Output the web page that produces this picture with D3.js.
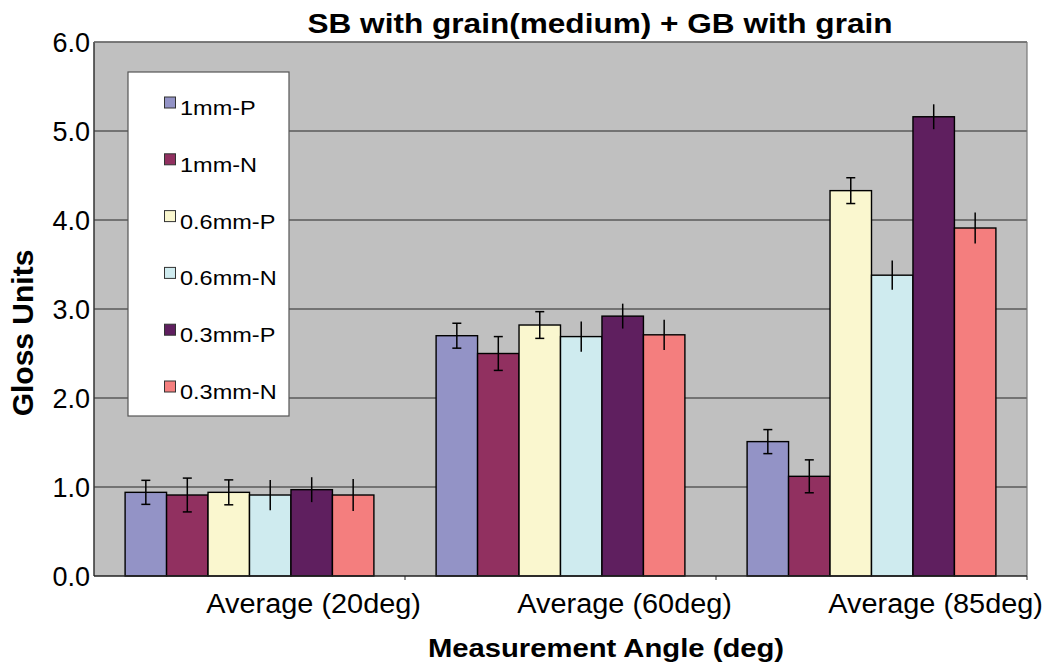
<!DOCTYPE html>
<html>
<head>
<meta charset="utf-8">
<script src="https://cdn.jsdelivr.net/npm/d3@7"></script>
<style>
  body { margin: 0; background: #fff; }
  text { font-family: "Liberation Sans", Arial, sans-serif; fill: #000; }
</style>
</head>
<body>
<svg id="chart" width="1047" height="665"></svg>
<script>
// chart values
let categories = ["Average (20deg)", "Average (60deg)", "Average (85deg)"];
let series = ["1mm-P", "1mm-N", "0.6mm-P", "0.6mm-N", "0.3mm-P", "0.3mm-N"];
let colours = ["#9393c6", "#913060", "#faf7cf", "#cfebef", "#5f1f5f", "#f47e7e"];
let capped = [true, true, true, false, false, false];

let avg20 = [0.94, 0.91, 0.94, 0.91, 0.97, 0.91];
let avg60 = [2.70, 2.50, 2.82, 2.69, 2.92, 2.71];
let avg85 = [1.51, 1.12, 4.33, 3.38, 5.16, 3.91];
let err20 = [0.135, 0.19, 0.14, 0.17, 0.14, 0.18];
let err60 = [0.14, 0.19, 0.15, 0.17, 0.14, 0.17];
let err85 = [0.135, 0.185, 0.145, 0.165, 0.14, 0.175];
let yTicks = [0, 1, 2, 3, 4, 5, 6];

let means = [avg20, avg60, avg85];
let errs = [err20, err60, err85];

// the original picture is stretched sideways a little
let sx = 1.17;

let svg = d3.select("#chart");
let pLeft = 94, pRight = 1027, pTop = 42, pBottom = 576;

let x0 = d3.scaleBand().domain(categories).range([pLeft, pRight]).padding(0);
let x1 = d3.scaleBand().domain(series)
    .range([x0.bandwidth() * 0.1, x0.bandwidth() * 0.9]).padding(0);
let y = d3.scaleLinear().domain([0, 6]).range([pBottom, pTop]);

// helper for stretched text
function label(g, txt, x, yy, size, weight, anchor, stretch) {
    return g.append("text")
        .attr("transform", "translate(" + x + "," + yy + ") scale(" + stretch + ",1)")
        .attr("text-anchor", anchor)
        .style("font-size", size + "px")
        .style("font-weight", weight)
        .text(txt);
}

// plot background
svg.append("rect")
    .attr("x", pLeft).attr("y", pTop)
    .attr("width", pRight - pLeft).attr("height", pBottom - pTop)
    .attr("fill", "#c0c0c0");

// gridlines
svg.append("g").selectAll("line")
    .data(yTicks.filter(d => d > 0))
    .enter().append("line")
    .attr("x1", pLeft).attr("x2", pRight)
    .attr("y1", d => y(d)).attr("y2", d => y(d))
    .attr("stroke", "#5a5a5a").attr("stroke-width", 1.3);

// right border
svg.append("line")
    .attr("x1", pRight).attr("x2", pRight).attr("y1", pTop).attr("y2", pBottom)
    .attr("stroke", "#777").attr("stroke-width", 1.2);

// bars
let rows = [];
categories.forEach(function(c, ci) {
    series.forEach(function(s, si) {
        rows.push({cat: c, ser: s, si: si, v: means[ci][si], e: errs[ci][si]});
    });
});

let bars = svg.append("g");
bars.selectAll("rect")
    .data(rows)
    .enter().append("rect")
    .attr("x", d => x0(d.cat) + x1(d.ser))
    .attr("y", d => y(d.v))
    .attr("width", x1.bandwidth())
    .attr("height", d => y(0) - y(d.v))
    .attr("fill", d => colours[d.si])
    .attr("stroke", "#000").attr("stroke-width", 1.4);

// error bars
let eb = svg.append("g").attr("stroke", "#000").attr("stroke-width", 1.5);
eb.selectAll("line.v")
    .data(rows)
    .enter().append("line")
    .attr("class", "v")
    .attr("x1", d => x0(d.cat) + x1(d.ser) + x1.bandwidth() / 2)
    .attr("x2", d => x0(d.cat) + x1(d.ser) + x1.bandwidth() / 2)
    .attr("y1", d => y(d.v + d.e))
    .attr("y2", d => y(d.v - d.e));
let caps = rows.filter(d => capped[d.si]);
[1, -1].forEach(function(sign) {
    eb.selectAll("line.c" + (sign > 0 ? "up" : "dn"))
        .data(caps)
        .enter().append("line")
        .attr("class", "c" + (sign > 0 ? "up" : "dn"))
        .attr("x1", d => x0(d.cat) + x1(d.ser) + x1.bandwidth() / 2 - 4.5)
        .attr("x2", d => x0(d.cat) + x1(d.ser) + x1.bandwidth() / 2 + 4.5)
        .attr("y1", d => y(d.v + sign * d.e))
        .attr("y2", d => y(d.v + sign * d.e));
});

// axes lines
svg.append("line")
    .attr("x1", pLeft).attr("x2", pLeft).attr("y1", pTop).attr("y2", pBottom)
    .attr("stroke", "#333").attr("stroke-width", 1.5);
svg.append("line")
    .attr("x1", pLeft).attr("x2", pRight).attr("y1", pTop).attr("y2", pTop)
    .attr("stroke", "#777").attr("stroke-width", 1.2);
svg.append("line")
    .attr("x1", pLeft).attr("x2", pRight).attr("y1", pBottom).attr("y2", pBottom)
    .attr("stroke", "#222").attr("stroke-width", 1.5);

// x ticks at group edges
svg.append("g").selectAll("line")
    .data(categories)
    .enter().append("line")
    .attr("x1", d => x0(d) + x0.bandwidth()).attr("x2", d => x0(d) + x0.bandwidth())
    .attr("y1", pBottom).attr("y2", pBottom + 4)
    .attr("stroke", "#222").attr("stroke-width", 1);

// y tick labels
let yl = svg.append("g");
yTicks.forEach(function(t) {
    label(yl, d3.format(".1f")(t), 90, y(t) + 9.5, 27, "normal", "end", 1.0);
});

// x tick labels (Excel puts them right of the centre)
let xl = svg.append("g");
categories.forEach(function(c) {
    label(xl, c, x0(c) + x0.bandwidth() + 16, 613, 27, "normal", "end", 1.07);
});

// titles
label(svg, "SB with grain(medium) + GB with grain", 600, 33, 27, "bold", "middle", sx);
label(svg, "Measurement Angle (deg)", 606, 657, 25, "bold", "middle", sx);
svg.append("text")
    .attr("transform", "translate(33,333) rotate(-90)")
    .attr("text-anchor", "middle")
    .style("font-size", "30px")
    .style("font-weight", "bold")
    .text("Gloss Units");

// legend
let legend = svg.append("g");
legend.append("rect")
    .attr("x", 128).attr("y", 72).attr("width", 161).attr("height", 344)
    .attr("fill", "#fff").attr("stroke", "#555").attr("stroke-width", 1.2);
let items = legend.selectAll("g.item")
    .data(series)
    .enter().append("g")
    .attr("class", "item")
    .attr("transform", (d, i) => "translate(0," + (97 + i * 56.8) + ")");
items.append("rect")
    .attr("x", 164.5).attr("y", 0).attr("width", 11).attr("height", 11)
    .attr("fill", (d, i) => colours[i])
    .attr("stroke", "#333").attr("stroke-width", 1);
items.each(function(d) {
    label(d3.select(this), d, 180, 18, 21, "normal", "start", 1.12);
});
</script>
</body>
</html>
